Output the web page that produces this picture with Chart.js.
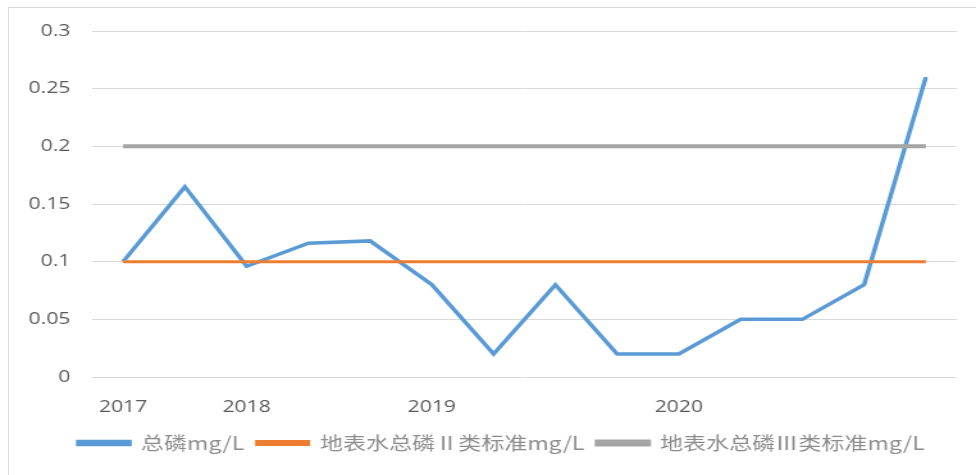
<!DOCTYPE html>
<html>
<head>
<meta charset="utf-8">
<script src="https://cdn.jsdelivr.net/npm/chart.js@4/dist/chart.umd.min.js"></script>
<style>
  html, body { margin: 0; padding: 0; background: #fff; overflow: hidden; }
  #frame {
    position: absolute; left: 8px; top: 7px; width: 968px; height: 468px;
    border-top: 1px solid #d9d9d9; border-left: 1px solid #d9d9d9;
  }
  /* the original picture is stretched sideways, so the chart is too */
  #wrap {
    position: absolute; left: 0; top: 0; width: 762px; height: 475px;
    transform-origin: 0 0; transform: scaleX(1.2808);
  }
</style>
</head>
<body>
<div id="frame"></div>
<div id="wrap"><canvas id="chart"></canvas></div>
<script>
const labels = ["2017", "", "2018", "", "", "2019", "", "", "", "2020", "", "", "", ""];
const totalP = [0.1, 0.165, 0.096, 0.116, 0.118, 0.08, 0.02, 0.08, 0.02, 0.02, 0.05, 0.05, 0.08, 0.26];
const classII = [0.1, 0.1, 0.1, 0.1, 0.1, 0.1, 0.1, 0.1, 0.1, 0.1, 0.1, 0.1, 0.1, 0.1];
const classIII = [0.2, 0.2, 0.2, 0.2, 0.2, 0.2, 0.2, 0.2, 0.2, 0.2, 0.2, 0.2, 0.2, 0.2];
const yTicks = [0, 0.05, 0.1, 0.15, 0.2, 0.25, 0.3];

Chart.defaults.font.family = "'Open Sans', 'Noto Sans CJK SC', sans-serif";

// legend sits a bit right of centre in the original
const legendShift = {
  id: "legendShift",
  afterLayout(chart) {
    chart.legend.left += 18;
    chart.legend.right += 18;
  }
};

const ctx = document.getElementById("chart").getContext("2d");
new Chart(ctx, {
  type: "line",
  data: {
    labels,
    datasets: [
      {
        label: "总磷mg/L",
        data: totalP,
        borderColor: "#5B9BD5",
        backgroundColor: "#5B9BD5",
        borderWidth: 3.5,
        order: 2
      },
      {
        label: "地表水总磷Ⅱ类标准mg/L",
        data: classII,
        borderColor: "#ED7D31",
        backgroundColor: "#ED7D31",
        borderWidth: 3,
        order: 1
      },
      {
        label: "地表水总磷Ⅲ类标准mg/L",
        data: classIII,
        borderColor: "#A5A5A5",
        backgroundColor: "#A5A5A5",
        borderWidth: 4,
        order: 0
      }
    ]
  },
  options: {
    responsive: true,
    maintainAspectRatio: false,
    animation: false,
    elements: { point: { radius: 0 }, line: { tension: 0 } },
    layout: { padding: { left: 0, right: 15, top: 31, bottom: 13 } },
    scales: {
      x: {
        offset: true,
        grid: { display: false },
        border: { display: false },
        ticks: {
          autoSkip: false,
          maxRotation: 0,
          padding: 12,
          color: "#595959",
          font: { size: 16.5 }
        },
        afterFit: (scale) => { scale.height = 47; }
      },
      y: {
        min: 0,
        max: 0.3,
        grid: { color: "#d9d9d9", lineWidth: 1, drawTicks: false },
        border: { display: false },
        afterBuildTicks: (scale) => { scale.ticks = yTicks.map((v) => ({ value: v })); },
        ticks: {
          padding: 17,
          color: "#595959",
          font: { size: 16.5 },
          callback: (v) => String(+Number(v).toFixed(2))
        },
        afterFit: (scale) => { scale.width = 72; }
      }
    },
    plugins: {
      tooltip: { enabled: false },
      legend: {
        position: "bottom",
        labels: {
          boxWidth: 40,
          boxHeight: 3,
          padding: 10,
          color: "#8c8c8c",
          font: { size: 18, family: "'Noto Sans CJK SC', sans-serif" },
          sort: (a, b) => a.datasetIndex - b.datasetIndex
        }
      }
    }
  },
  plugins: [legendShift]
});
</script>
</body>
</html>
